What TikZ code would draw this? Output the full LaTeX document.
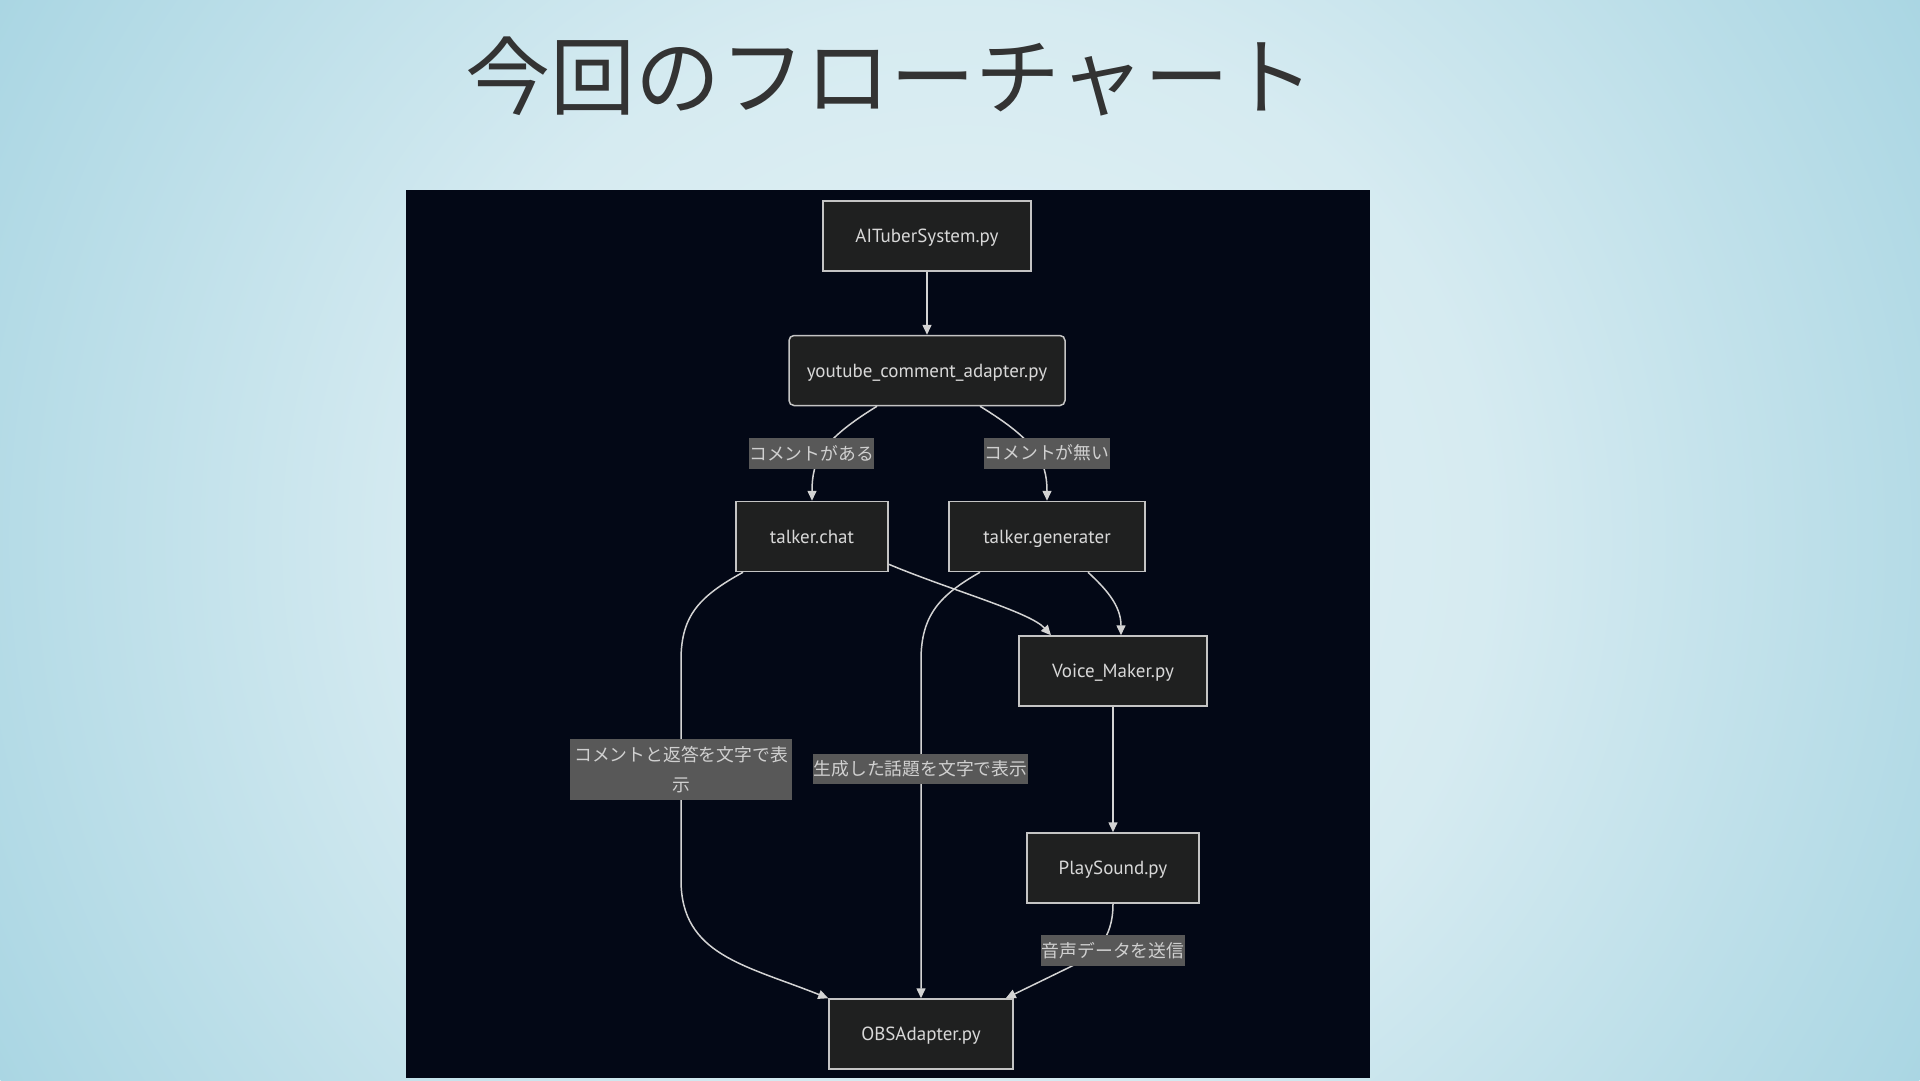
\documentclass[tikz,border=0pt]{standalone}
\usepackage{fontspec}
\setmainfont{PT Sans}
\newfontfamily\jp{Noto Sans CJK JP}
\usetikzlibrary{arrows.meta}
\definecolor{bgA}{HTML}{E4F2F6}
\definecolor{bgB}{HTML}{D6EBF1}
\definecolor{bgC}{HTML}{AAD6E3}
\definecolor{panel}{HTML}{030816}
\definecolor{nodefill}{HTML}{1F2020}
\definecolor{nodeline}{HTML}{C4C4C4}
\definecolor{nodetext}{HTML}{D8D8D8}
\definecolor{edgecol}{HTML}{D3D3D3}
\definecolor{lblfill}{HTML}{585858}
\definecolor{lbltext}{HTML}{D0D0D0}
\definecolor{titlecol}{HTML}{333333}
\pgfdeclareradialshading{bgshade}{\pgfpointorigin}{color(0bp)=(bgA); color(12bp)=(bgB); color(25bp)=(bgC); color(50bp)=(bgC)}
\begin{document}
\begin{tikzpicture}[x=1pt,y=-1pt,
  box/.style={draw=nodeline, line width=1.5pt, fill=nodefill, text=nodetext,
    font=\fontsize{19}{23}\selectfont, inner sep=0pt, minimum height=70pt,
    text height=17pt, text depth=4pt},
  lbl/.style={fill=lblfill, text=lbltext, font=\jp\fontsize{17.8}{30}\selectfont,
    inner xsep=0.5pt, inner ysep=0pt, minimum height=31pt, align=center},
  arr/.style={draw=edgecol, line width=1.5pt, -{Triangle[length=10pt,width=9pt]}},
]
\useasboundingbox (0,0) rectangle (1920,1080);
\fill[bgC] (0,0) rectangle (1920,1080);
\begin{scope}
  \clip (0,0) rectangle (1920,1080);
  \shade[shading=bgshade] (960,540) circle (1101pt);
\end{scope}

\node[text=titlecol, font=\jp\fontsize{85}{100}\selectfont, inner sep=0pt] (title) at (890,76) {今回のフローチャート};

\fill[panel] (406,190) rectangle (1370,1078);

% nodes
\node[box, minimum width=208pt] (ai) at (927,236) {AITuberSystem.py};
\node[box, minimum width=276pt, rounded corners=5pt] (yca) at (927,370.5) {youtube\_comment\_adapter.py};
\node[box, minimum width=152pt] (tc) at (812,536.5) {talker.chat};
\node[box, minimum width=196pt] (tg) at (1047,536.5) {talker.generater};
\node[box, minimum width=188pt] (vm) at (1113,671) {Voice\_Maker.py};
\node[box, minimum width=172pt] (ps) at (1113,868) {PlaySound.py};
\node[box, minimum width=184pt] (obs) at (921,1034) {OBSAdapter.py};

% connector ends
\coordinate (e2s) at ([xshift=-50pt]yca.south);
\coordinate (e3s) at ([xshift=53pt]yca.south);
\coordinate (e4s) at ([yshift=8pt]tc.south east);
\coordinate (e4e) at ([xshift=-62pt]vm.north);
\coordinate (e5s) at ([xshift=41pt]tg.south);
\coordinate (e5e) at ([xshift=8pt]vm.north);
\coordinate (e6s) at ([xshift=-69pt]tc.south);
\coordinate (e7s) at ([xshift=-67pt]tg.south);
\coordinate (e9e) at ([xshift=-8pt]obs.north east);

% connectors
\draw[arr] (ai.south) -- (yca.north);
\draw[arr] (e2s) .. controls (822,440) and (812,460) .. (tc.north);
\draw[arr] (e3s) .. controls (1035,440) and (1047,460) .. (tg.north);
\draw[arr] (e4s) .. controls (950,590) and (1030,612) .. (e4e);
\draw[arr] (e5s) .. controls (1105,588) and (1121,605) .. (e5e);
\draw[arr] (e6s) .. controls (700,596) and (681,615) .. (681,660) -- (681,880)
  .. controls (681,955) and (745,965) .. (obs.north west);
\draw[arr] (e7s) .. controls (940,595) and (921,615) .. (921,660) -- (obs.north);
\draw[arr] (vm.south) -- (ps.north);
\draw[arr] (ps.south) .. controls (1113,940) and (1095,955) .. (1070,967) -- (e9e);

% edge labels
\node[lbl] (l1) at (811.5,453) {コメントがある};
\node[lbl] (l2) at (1047,453) {コメントが無い};
\node[lbl, minimum width=222pt, minimum height=61pt] (l3) at (681,769.5) {コメントと返答を文字で表\\示};
\node[lbl, minimum height=30pt] (l4) at (920.5,769) {生成した話題を文字で表示};
\node[lbl] (l5) at (1113,950.5) {音声データを送信};
\end{tikzpicture}
\end{document}
